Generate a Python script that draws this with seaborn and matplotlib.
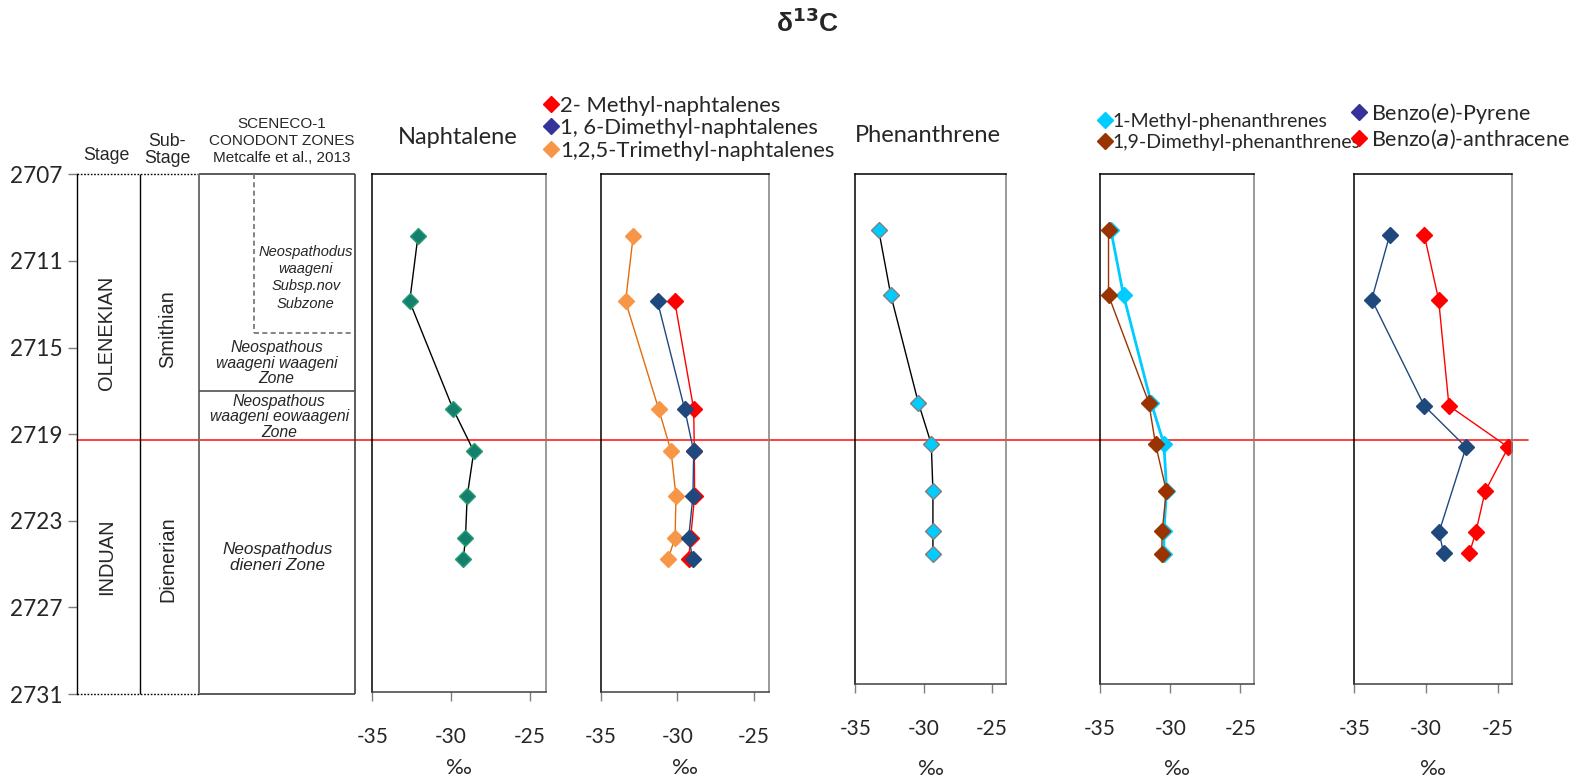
import numpy as np
import matplotlib
matplotlib.use("Agg")
import matplotlib.pyplot as plt
import seaborn as sns
from matplotlib.lines import Line2D

# ---------------- data ----------------
# sample depths (m)
depth = [2709.85, 2712.9, 2717.9, 2719.85, 2721.93, 2723.85, 2724.85]
phen_depth = [2709.6, 2712.7, 2717.75, 2719.7, 2721.9, 2723.8, 2724.88]
benzo_e_depth = [2709.85, 2712.9, 2717.9, 2719.85, 2723.85, 2724.85]

# d13C (permil)
naphtalene = [-32.10, -32.63, -29.87, -28.56, -28.98, -29.09, -29.22]
methyl_naph_2 = [-30.17, -28.93, -28.89, -28.87, -29.13, -29.26]
dimethyl_naph_16 = [-31.30, -29.52, -28.93, -28.98, -29.26, -28.98]
trimethyl_naph_125 = [-32.89, -33.39, -31.22, -30.41, -30.09, -30.15, -30.61]
phenanthrene = [-33.31, -32.41, -30.40, -29.45, -29.33, -29.33, -29.33]
methyl_phen_1 = [-34.24, -33.33, -31.36, -30.45, -30.26, -30.45, -30.45]
dimethyl_phen_19 = [-34.40, -34.40, -31.53, -31.05, -30.28, -30.57, -30.61]
benzo_e_pyrene = [-32.53, -33.79, -30.13, -27.22, -29.10, -28.78]
benzo_a_anthracene = [-30.13, -29.13, -28.41, -24.28, -25.89, -26.54, -26.99]

# stratigraphy
depth_ticks = [2707, 2711, 2715, 2719, 2723, 2727, 2731]
section_top, section_base = 2707, 2731
subzone_base = 2714.35
waageni_zone_base = 2717.0
stage_boundary = 2719.27
x_ticks = [-35, -30, -25]

# ---------------- style ----------------
sns.set_theme(style="white")
plt.rcParams["font.family"] = ["Lato", "DejaVu Sans"]
plt.rcParams["axes.linewidth"] = 1.0

W, H = 1576, 782
fig = plt.figure(figsize=(W / 100, H / 100), dpi=100, facecolor="white")


def box(l, t, r, b):
    return [l / W, 1 - b / H, (r - l) / W, (b - t) / H]


def fx(x):
    return x / W


def fy(y):
    return 1 - y / H


ARIAL = ["Liberation Sans", "DejaVu Sans"]

# ---------------- stratigraphic column ----------------
ax_col = fig.add_axes(box(77, 174.3, 355, 694))
ax_col.set_facecolor("none")
ax_col.set_xlim(0, 1)
ax_col.set_ylim(section_base, section_top)
for s in ["top", "right", "bottom"]:
    ax_col.spines[s].set_visible(False)
ax_col.spines["left"].set_color("black")
ax_col.set_xticks([])
ax_col.set_yticks(depth_ticks)
ax_col.tick_params(axis="y", left=True, direction="out", length=6.5, width=1,
                   color="#7f7f7f", pad=4, labelsize=16.3)

x_sub, x_zone, x_subzone = 0.227, 0.439, 0.637
kw = dict(clip_on=False)
ax_col.hlines([section_top, section_base], 0, x_zone, colors="black",
              linestyles=(0, (1.2, 1.2)), lw=1, **kw)
ax_col.hlines([section_top, section_base], x_zone, 1, colors="#404040", lw=1.2, **kw)
ax_col.vlines(x_sub, section_top, section_base, colors="black", lw=1, **kw)
ax_col.vlines(x_zone, section_top, section_base, colors="#707070", lw=1.4, **kw)
ax_col.vlines(1, section_top, section_base, colors="#404040", lw=1.2, **kw)
ax_col.vlines(x_subzone, section_top, subzone_base, colors="#707070",
              linestyles=(0, (3, 2)), lw=1.2, **kw)
ax_col.hlines(subzone_base, x_subzone, 1, colors="#707070",
              linestyles=(0, (3, 2)), lw=1.2, **kw)
ax_col.hlines(waageni_zone_base, x_zone, 1, colors="#505050", lw=1.2, **kw)

# stage boundary across all panels
ax_col.axhline(stage_boundary, xmin=0, xmax=(1528 - 77) / 278, color="#ff3030",
               lw=1.3, clip_on=False, zorder=1)

rkw = dict(rotation=90, ha="center", va="center", fontsize=14.4, family=ARIAL)
ax_col.text(0.107, 2714.31, "OLENEKIAN", **rkw)
ax_col.text(0.107, 2724.68, "INDUAN", **rkw)
ax_col.text(0.327, 2714.15, "Smithian", **rkw)
ax_col.text(0.327, 2724.77, "Dienerian", **rkw)

zkw = dict(ha="center", va="center", style="italic", family=ARIAL)
ax_col.text(0.823, 2711.78, "Neospathodus\nwaageni\nSubsp.nov\nSubzone",
            fontsize=10.5, linespacing=1.3, **zkw)
ax_col.text(0.718, 2715.73, "Neospathous\nwaageni waageni\nZone",
            fontsize=11.3, linespacing=1.03, **zkw)
ax_col.text(0.727, 2718.2, "Neospathous\nwaageni eowaageni\nZone",
            fontsize=11.3, linespacing=1.03, **zkw)
ax_col.text(0.722, 2724.7, "Neospathodus\ndieneri Zone",
            fontsize=12.3, linespacing=1.02, **zkw)

fig.text(fx(106), fy(155), "Stage", ha="center", va="center", fontsize=12.8, family=ARIAL)
fig.text(fx(167), fy(150), "Sub-\nStage", ha="center", va="center", fontsize=12.8,
         family=ARIAL, linespacing=1.0)
fig.text(fx(281.7), fy(141), "SCENECO-1\nCONODONT ZONES\nMetcalfe et al., 2013",
         ha="center", va="center", fontsize=11, family=ARIAL, linespacing=1.28)

# ---------------- isotope panels ----------------
panel_boxes = [
    (372.3, 174.3, 545.7, 691.7),
    (601.0, 174.3, 769.0, 691.7),
    (855.5, 174.3, 1005.7, 684.0),
    (1100.1, 174.3, 1254.4, 684.0),
    (1354.3, 174.3, 1512.3, 684.0),
]
axes = []
for b in panel_boxes:
    ax = fig.add_axes(box(*b))
    ax.set_facecolor("none")
    axes.append(ax)


def series(ax, x, y, line, face, edge, lw=1.0, ms=8, z=2):
    sns.lineplot(x=x, y=y, ax=ax, sort=False, estimator=None, color=line, lw=lw,
                 marker="D", markersize=ms, markerfacecolor=face,
                 markeredgecolor=edge, markeredgewidth=1, zorder=z)


TEAL, TEAL_E = "#13806f", "#2b9d70"
NAVY = "#1f497d"
ORANGE, ORANGE_L = "#f79646", "#e46c0a"
RED = "#ff0000"
CYAN = "#00ccff"
BROWN = "#993300"
LEG_BLUE = "#333399"

series(axes[0], naphtalene, depth, "black", TEAL, TEAL_E)
series(axes[1], trimethyl_naph_125, depth, ORANGE_L, ORANGE, ORANGE)
series(axes[1], methyl_naph_2, depth[1:], RED, RED, RED)
series(axes[1], dimethyl_naph_16, depth[1:], NAVY, NAVY, NAVY, z=3)
series(axes[2], phenanthrene, phen_depth, "black", CYAN, "#7f7f7f")
series(axes[3], methyl_phen_1, phen_depth, CYAN, CYAN, CYAN, lw=2.0)
series(axes[3], dimethyl_phen_19, phen_depth, BROWN, BROWN, BROWN, z=3)
series(axes[4], benzo_e_pyrene, benzo_e_depth, NAVY, NAVY, NAVY)
series(axes[4], benzo_a_anthracene, depth, RED, RED, RED)

for i, ax in enumerate(axes):
    ax.set_xlim(-35, -24)
    ax.set_ylim(section_base, section_top)
    ax.set_yticks([])
    ax.set_ylabel("")
    ax.set_xticks(x_ticks)
    ax.set_xticklabels([str(t) for t in x_ticks])
    ax.tick_params(axis="x", bottom=True, direction="out", length=6.5, width=1,
                   color="#7f7f7f", pad=19, labelsize=15)
    for s in ax.spines.values():
        s.set_visible(True)
        s.set_linewidth(1.1)
    ax.spines["left"].set_color("black")
    ax.spines["top"].set_color("black")
    ax.spines["right"].set_color("#7f7f7f")
    ax.spines["bottom"].set_color("#404040")
    ax.set_xlabel("‰", fontsize=16, labelpad=8 if i < 2 else 14)

fig.text(fx(457.5), fy(137.7), "Naphtalene", ha="center", va="center", fontsize=17)
fig.text(fx(927.7), fy(135.7), "Phenanthrene", ha="center", va="center", fontsize=17)

fig.text(fx(808), fy(23), "δ$^{\\mathbf{13}}$C", ha="center", va="center", fontsize=19,
         fontweight="bold", family=ARIAL)


# ---------------- legends ----------------
def legend(colors, labels, left, top, pad, spacing, size):
    handles = [Line2D([], [], ls="none", marker="D", markersize=8, color=c,
                      markeredgecolor=c) for c in colors]
    fig.legend(handles, labels, loc="upper left",
               bbox_to_anchor=(fx(left), fy(top)), frameon=False, fontsize=size,
               handlelength=0.55, handletextpad=pad, labelspacing=spacing,
               borderpad=0, borderaxespad=0)


legend([RED, LEG_BLUE, ORANGE],
       ["2- Methyl-naphtalenes", "1, 6-Dimethyl-naphtalenes",
        "1,2,5-Trimethyl-naphtalenes"], 545, 95.5, 0.12, 0.12, 15.8)
legend([CYAN, BROWN], ["1-Methyl-phenanthrenes", "1,9-Dimethyl-phenanthrenes"],
       1100, 112.5, 0.1, 0.22, 14.0)
legend([LEG_BLUE, RED], ["Benzo($\\it{e}$)-Pyrene", "Benzo($\\it{a}$)-anthracene"],
       1353, 101, 0.3, 0.08, 15.5)

fig.savefig("out.png", dpi=100, facecolor="white")
